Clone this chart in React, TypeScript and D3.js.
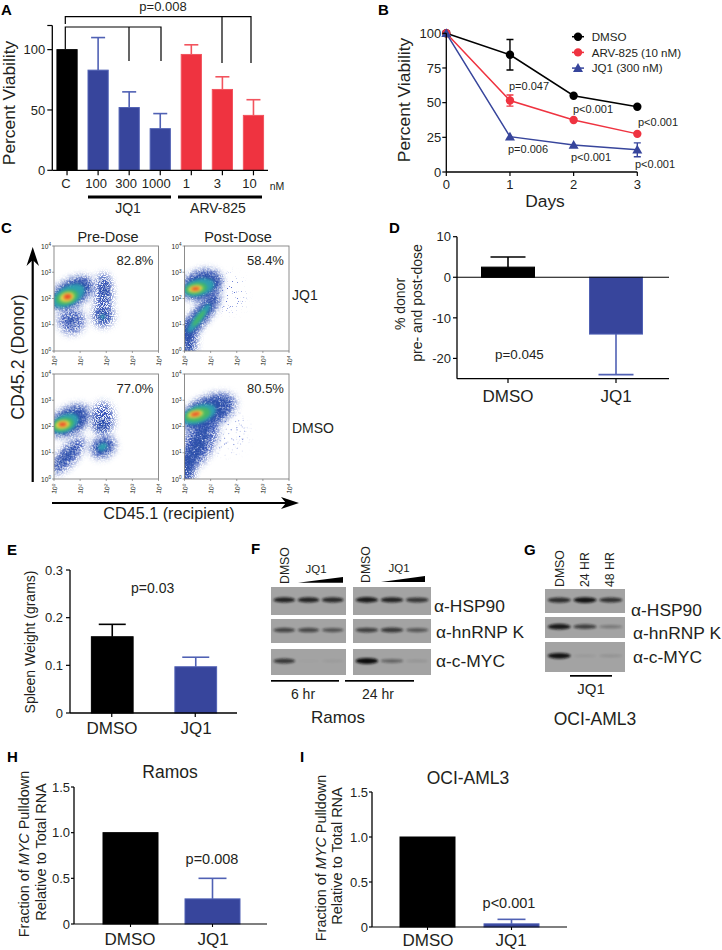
import React from "react";
import * as d3 from "d3";

// ---------- data ----------
const A_CATS = ["C", "100", "300", "1000", "1", "3", "10"];
const A_VALS = [100, 83, 52, 34.5, 96, 67, 45.5];
const A_ERR_TOP = [100, 110, 65, 47, 104, 77.5, 58.5];
const A_KIND = ["c", "j", "j", "j", "a", "a", "a"];
const A_LABEL_DX = [-1, -2, -3, -4, -5, -5, -4];

const B_DAYS = [0, 1, 2, 3];
const B_DMSO = [100, 84.5, 55, 47];
const B_DMSO_ERR = [0, 11, 1.5, 1.5];
const B_ARV = [100, 51.5, 37.5, 27.5];
const B_ARV_ERR = [0, 4, 2, 2];
const B_JQ1 = [100, 25.5, 19.5, 16];
const B_JQ1_ERR = [0, 1.5, 1.5, 5];
const B_TICKS = [0, 25, 50, 75, 100];

const D_CATS = ["DMSO", "JQ1"];
const D_VALS = [2.5, -14];
const D_ERR = [5, -24];
const D_TICKS = [10, 0, -10, -20];

const E_VALS = [0.16, 0.097];
const E_ERR = [0.186, 0.117];
const E_TICKS = [0, 0.1, 0.2, 0.3];

const H_VALS = [1, 0.275];
const H_ERR = [1, 0.5];
const I_VALS = [1, 0.035];
const I_ERR = [1, 0.085];
const HI_TICKS = [0, 0.5, 1, 1.5];

// flow clusters: log10 x, log10 y, radius x, radius y (decades), angle, density level
const FLOW_PRE_JQ1 = [
  [0.68, 2.2, 0.95, 0.52, -30, 0], [1.9, 2.2, 0.33, 0.75, 0, 0], [1.88, 1.35, 0.4, 0.42, 0, 0], [0.67, 1.15, 0.5, 0.5, -20, 0],
  [0.66, 2.2, 0.78, 0.42, -30, 1], [1.92, 2.3, 0.13, 0.4, 0, 1], [1.88, 1.37, 0.2, 0.22, 0, 1], [0.67, 1.15, 0.2, 0.18, -20, 1],
  [0.55, 2.1, 0.68, 0.36, -28, 2], [1.86, 1.3, 0.08, 0.08, 0, 2],
  [0.5, 2.05, 0.44, 0.26, -20, 3], [0.5, 2.05, 0.28, 0.18, -15, 4], [0.52, 2.07, 0.15, 0.1, -10, 5],
];
const FLOW_POST_JQ1 = [
  [1.75, 2.2, 0.55, 0.7, 0, -1],
  [0.66, 2.52, 0.82, 0.55, -20, 0], [0.62, 1.35, 1.15, 0.33, -52, 0], [0.15, 0.5, 0.32, 0.7, 0, 0],
  [0.66, 2.5, 0.72, 0.46, -20, 1], [0.62, 1.35, 1.0, 0.24, -52, 1], [0.13, 0.5, 0.18, 0.6, 0, 1],
  [0.55, 2.42, 0.6, 0.32, -15, 2], [0.55, 1.25, 0.68, 0.15, -52, 2],
  [0.45, 2.38, 0.42, 0.22, -10, 3], [0.55, 1.25, 0.4, 0.08, -52, 3],
  [0.42, 2.37, 0.28, 0.14, -8, 4], [0.42, 2.37, 0.16, 0.07, -5, 5],
];
const FLOW_PRE_DMSO = [
  [0.62, 2.22, 0.85, 0.52, -30, 0], [1.86, 2.3, 0.42, 0.62, 0, 0], [1.88, 1.22, 0.5, 0.4, -30, 0], [0.55, 0.9, 0.9, 0.34, -48, 0],
  [0.6, 2.2, 0.72, 0.43, -30, 1], [1.82, 2.05, 0.24, 0.18, -10, 1], [1.86, 1.22, 0.36, 0.26, -30, 1], [0.45, 0.85, 0.6, 0.16, -48, 1],
  [0.42, 2.12, 0.55, 0.33, -25, 2], [1.86, 1.22, 0.18, 0.13, -30, 2],
  [0.35, 2.08, 0.42, 0.24, -15, 3], [0.33, 2.07, 0.28, 0.16, -10, 4], [0.33, 2.08, 0.15, 0.08, -5, 5],
];
const FLOW_POST_DMSO = [
  [1.6, 1.8, 0.8, 0.85, -30, -1],
  [0.9, 2.55, 1.15, 0.58, -25, 0], [0.55, 1.4, 1.15, 0.58, -62, 0], [0.1, 0.4, 0.28, 0.6, 0, 0],
  [0.85, 2.55, 0.98, 0.48, -25, 1], [0.5, 1.3, 0.95, 0.28, -65, 1], [0.1, 0.4, 0.16, 0.45, 0, 1],
  [0.55, 2.47, 0.68, 0.34, -20, 2], [0.5, 2.45, 0.5, 0.25, -15, 3], [0.42, 2.47, 0.3, 0.14, -12, 4], [0.42, 2.47, 0.18, 0.07, -12, 5],
];
const FLOW_TICKS = [1, 10, 100, 1000, 10000];
const FLOW_EXP = ["0", "1", "2", "3", "4"];
const FLOW_PCT = ["82.8%", "58.4%", "77.0%", "80.5%"];

// blot bands: darkness of each lane
const F_6H = [[0.85, 0.85, 0.8], [0.62, 0.6, 0.52], [0.7, 0, 0.04]];
const F_24H = [[0.9, 0.85, 0.72], [0.65, 0.7, 0.5], [1, 0.4, 0.08]];
const G_BLOT = [[0.78, 0.95, 0.75], [0.9, 0.65, 0.28], [0.95, 0.05, 0.1]];
const F_ANTIBODIES = ["α-HSP90", "α-hnRNP K", "α-c-MYC"];

// ---------- layout & style ----------
const FONT = "Liberation Sans, Arial, sans-serif";
const INK = "#231f20";
const BLUE = "#37459c";
const BLUE_E = "#5061b4";
const RED = "#ef3340";
const RED_E = "#f2545e";
const FLOW_COLORS: Record<string, string> = { "-1": "#5a6fd0", "0": "#3250b8", "1": "#2a4fa8", "2": "#2f9fb0", "3": "#45b866", "4": "#e6d94a", "5": "#ea4a28" };
const FLOW_FILTER: Record<string, string> = { "-1": "url(#sparse)", "0": "url(#speckle)", "1": "url(#speckle2)", "2": "url(#soft)", "3": "url(#soft)", "4": "url(#soft)", "5": "url(#soft)" };

function T({ x, y, s = 13, a = "start", r, w, fill = INK, children }: any) {
  return (
    <text x={x} y={y} fontSize={s} fontFamily={FONT} textAnchor={a} fontWeight={w} fill={fill}
      transform={r ? `rotate(${r} ${x} ${y})` : undefined}>{children}</text>
  );
}
const Letter = ({ x, y, c }: any) => <T x={x} y={y} s={15} w="bold" fill="#000">{c}</T>;

function YAxis({ x, y, ticks, fmt, len = 5, s = 13, top, bottom, dx = 3 }: any) {
  return (
    <g>
      <line x1={x} x2={x} y1={top ?? y(d3.max(ticks))} y2={bottom ?? y(d3.min(ticks))} stroke="#000" strokeWidth={1.3} />
      {ticks.map((t: number) => (
        <g key={t}>
          <line x1={x - len} x2={x} y1={y(t)} y2={y(t)} stroke="#000" strokeWidth={1.2} />
          <T x={x - len - dx} y={y(t) + s * 0.36} s={s} a="end">{fmt ? fmt(t) : t}</T>
        </g>
      ))}
    </g>
  );
}

function Bar({ x, w, y0, yv, ye, cap, color, edge, sw = 1 }: any) {
  const c = x + w / 2;
  return (
    <g>
      {ye !== yv && <line x1={c} x2={c} y1={yv} y2={ye} stroke={edge} strokeWidth={1.6} />}
      {ye !== yv && <line x1={c - cap} x2={c + cap} y1={ye} y2={ye} stroke={edge} strokeWidth={1.6} />}
      <rect x={x} y={Math.min(y0, yv)} width={w} height={Math.abs(y0 - yv)} fill={color} stroke={edge} strokeWidth={sw} />
    </g>
  );
}

function PanelA() {
  const y = d3.scaleLinear().domain([0, 120]).range([170.3, 25.5]);
  const x = d3.scaleBand().domain(A_CATS.map((c, i) => i + c)).range([51.5, 269]).paddingInner(0.35).paddingOuter(0.175);
  const col = (k: string) => (k === "c" ? "#000" : k === "j" ? BLUE : RED);
  const edge = (k: string) => (k === "c" ? "#000" : k === "j" ? BLUE_E : RED_E);
  return (
    <g>
      <Letter x={1} y={15} c="A" />
      <T x={163} y={10.5} s={13} a="middle">p=0.008</T>
      <path d="M65.3 49V27H161V61M129 27V61M65.3 24V16.7H251V63M222 16.7V63" fill="none" stroke="#000" strokeWidth={1.2} />
      {A_CATS.map((c, i) => {
        const k = i + c;
        const bx = x(k)!;
        const cx = bx + x.bandwidth() / 2;
        return (
          <g key={k}>
            <Bar x={bx} w={x.bandwidth()} y0={y(0)} yv={y(A_VALS[i])} ye={y(A_ERR_TOP[i])} cap={7} color={col(A_KIND[i])} edge={edge(A_KIND[i])} />
            <line x1={cx} x2={cx} y1={y(0)} y2={y(0) + 5} stroke="#000" strokeWidth={1.2} />
            <T x={cx + A_LABEL_DX[i]} y={188} s={13} a="middle">{c}</T>
          </g>
        );
      })}
      <line x1={52.3} x2={268} y1={y(0)} y2={y(0)} stroke="#000" strokeWidth={1.3} />
      <YAxis x={52.3} y={y} ticks={[0, 50, 100]} top={y(120)} dx={2} />
      <line x1={47.3} x2={52.3} y1={y(120)} y2={y(120)} stroke="#000" strokeWidth={1.2} />
      <T x={277} y={190} s={10.5} a="middle">nM</T>
      <rect x={88} y={195.5} width={83} height={3} fill="#000" />
      <rect x={178} y={195.5} width={84} height={3} fill="#000" />
      <T x={128} y={213} s={14} a="middle">JQ1</T>
      <T x={218} y={213} s={14} a="middle">ARV-825</T>
      <T x={15} y={103} s={17.4} a="middle" r={-90}>Percent Viability</T>
    </g>
  );
}

function PanelB() {
  const x = d3.scaleLinear().domain([0, 3]).range([446.3, 637.3]);
  const y = d3.scaleLinear().domain([0, 100]).range([172, 33.3]);
  const line = d3.line<number>().x((_, i) => x(B_DAYS[i])).y((d) => y(d));
  const series = [
    { v: B_DMSO, e: B_DMSO_ERR, c: "#000", m: "c" },
    { v: B_ARV, e: B_ARV_ERR, c: RED, m: "c" },
    { v: B_JQ1, e: B_JQ1_ERR, c: BLUE, m: "t" },
  ];
  const mark = (px: number, py: number, s: any) =>
    s.m === "c" ? <circle cx={px} cy={py} r={4.2} fill={s.c} /> : <path d={`M${px} ${py - 5}L${px + 5} ${py + 3.8}H${px - 5}Z`} fill={s.c} />;
  return (
    <g>
      <Letter x={378} y={15} c="B" />
      {series.map((s, k) => (
        <g key={k}>
          <path d={line(s.v)!} fill="none" stroke={s.c} strokeWidth={1.5} />
          {s.v.map((v, i) => (
            <g key={i}>
              {s.e[i] > 2 && (
                <path d={`M${x(i)} ${y(v + s.e[i])}V${y(v - s.e[i])}M${x(i) - 3.5} ${y(v + s.e[i])}h7M${x(i) - 3.5} ${y(v - s.e[i])}h7`} stroke={s.c} strokeWidth={1.4} fill="none" />
              )}
              {mark(x(B_DAYS[i]), y(v), s)}
            </g>
          ))}
        </g>
      ))}
      <YAxis x={446.3} y={y} ticks={B_TICKS} len={4} dx={1} />
      <line x1={446.3} x2={637.3} y1={172} y2={172} stroke="#000" strokeWidth={1.3} />
      {B_DAYS.map((d) => (
        <g key={d}>
          <line x1={x(d)} x2={x(d)} y1={172} y2={176} stroke="#000" strokeWidth={1.2} />
          <T x={x(d)} y={189} s={13} a="middle">{d}</T>
        </g>
      ))}
      <T x={545} y={207} s={17.4} a="middle">Days</T>
      <T x={410} y={100} s={17.4} a="middle" r={-90}>Percent Viability</T>
      {["DMSO", "ARV-825 (10 nM)", "JQ1 (300 nM)"].map((l, i) => (
        <g key={l}>
          <line x1={572} x2={584} y1={36.7 + i * 15.7} y2={36.7 + i * 15.7} stroke={series[i].c} strokeWidth={1.5} />
          {mark(578, 36.7 + i * 15.7, series[i])}
          <T x={591.7} y={40.8 + i * 15.7} s={11.6}>{l}</T>
        </g>
      ))}
      <T x={509} y={90} s={11}>p=0.047</T>
      <T x={573} y={113} s={11}>p&lt;0.001</T>
      <T x={638} y={126} s={11}>p&lt;0.001</T>
      <T x={508} y={153} s={11}>p=0.006</T>
      <T x={571} y={161} s={11}>p&lt;0.001</T>
      <T x={635} y={168} s={11}>p&lt;0.001</T>
    </g>
  );
}

function Flow({ x0, y0, data, pct, idp }: any) {
  const w = 104.5;
  const h = 105;
  const sx = d3.scaleLog().domain([1, 10000]).range([x0, x0 + w]);
  const sy = d3.scaleLog().domain([1, 10000]).range([y0 + h, y0]);
  const u = w / 4;
  const ordered = [...data].sort((a: number[], b: number[]) => a[5] - b[5]);
  return (
    <g>
      <clipPath id={idp}><rect x={x0} y={y0} width={w} height={h} /></clipPath>
      <rect x={x0} y={y0} width={w} height={h} fill="#fff" />
      <g clipPath={`url(#${idp})`}>
        {ordered.map((c: number[], i: number) => {
          const cx = sx(Math.pow(10, c[0]));
          const cy = sy(Math.pow(10, c[1]));
          return (
            <ellipse key={i} cx={cx} cy={cy} rx={c[2] * u} ry={c[3] * u}
              transform={`rotate(${c[4]} ${cx} ${cy})`} fill={FLOW_COLORS[String(c[5])]} filter={FLOW_FILTER[String(c[5])]} />
          );
        })}
      </g>
      <rect x={x0} y={y0} width={w} height={h} fill="none" stroke="#808080" strokeWidth={0.9} />
      {FLOW_TICKS.map((t, i) => (
        <g key={t}>
          <line x1={x0 - 2} x2={x0} y1={sy(t)} y2={sy(t)} stroke="#666" strokeWidth={0.6} />
          <line x1={sx(t)} x2={sx(t)} y1={y0 + h} y2={y0 + h + 2} stroke="#666" strokeWidth={0.6} />
          <text x={x0 - 3} y={sy(t) + 2.5} fontSize={6.6} fontFamily={FONT} textAnchor="end" fill={INK}>
            10<tspan dy={-2.2} fontSize={4.6}>{FLOW_EXP[i]}</tspan>
          </text>
          <text x={sx(t) + 2} y={y0 + h + 15} fontSize={6.6} fontFamily={FONT} fill={INK} transform={`rotate(-80 ${sx(t) + 2} ${y0 + h + 15})`}>
            10<tspan dy={-2.2} fontSize={4.6}>{FLOW_EXP[i]}</tspan>
          </text>
        </g>
      ))}
      <T x={x0 + 81} y={y0 + 19} s={13} a="middle">{pct}</T>
    </g>
  );
}

function PanelC() {
  return (
    <g>
      <Letter x={1} y={233} c="C" />
      <T x={108} y={242} s={14.5} a="middle">Pre-Dose</T>
      <T x={238} y={242} s={14.5} a="middle">Post-Dose</T>
      <Flow x0={54} y0={246} data={FLOW_PRE_JQ1} pct={FLOW_PCT[0]} idp="f1" />
      <Flow x0={184.5} y0={246} data={FLOW_POST_JQ1} pct={FLOW_PCT[1]} idp="f2" />
      <Flow x0={54} y0={374} data={FLOW_PRE_DMSO} pct={FLOW_PCT[2]} idp="f3" />
      <Flow x0={184.5} y0={374} data={FLOW_POST_DMSO} pct={FLOW_PCT[3]} idp="f4" />
      <T x={292} y={300} s={14}>JQ1</T>
      <T x={292} y={433} s={14}>DMSO</T>
      <line x1={32.7} x2={32.7} y1={482} y2={258} stroke="#000" strokeWidth={2.2} />
      <path d="M32.7 247 L39 266 L32.7 260 L26.5 266 Z" fill="#000" />
      <line x1={52} x2={292} y1={503} y2={503} stroke="#000" strokeWidth={2.2} />
      <path d="M299 503 L281 497 L286 503 L281 509 Z" fill="#000" />
      <T x={24} y={357} s={17.8} a="middle" r={-90}>CD45.2 (Donor)</T>
      <T x={169} y={519} s={16.2} a="middle">CD45.1 (recipient)</T>
    </g>
  );
}

function PanelD() {
  const y = d3.scaleLinear().domain([10, -25]).range([236.7, 378.7]);
  const x = d3.scaleBand().domain(D_CATS).range([457, 669]).paddingInner(0.5).paddingOuter(0.25);
  return (
    <g>
      <Letter x={389} y={233} c="D" />
      {D_CATS.map((c, i) => (
        <g key={c}>
          <Bar x={x(c)! + (i ? 0 : -2)} w={x.bandwidth()} y0={y(0)} yv={y(D_VALS[i])} ye={y(D_ERR[i])} cap={17.5} color={i ? BLUE : "#000"} edge={i ? BLUE_E : "#000"} />
          <line x1={x(c)! + x.bandwidth() / 2 + (i ? 0 : -2)} x2={x(c)! + x.bandwidth() / 2 + (i ? 0 : -2)} y1={378.7} y2={383} stroke="#000" strokeWidth={1.2} />
          <T x={x(c)! + x.bandwidth() / 2 + (i ? 0 : -2)} y={402} s={17} a="middle">{c}</T>
        </g>
      ))}
      <line x1={457} x2={669} y1={y(0)} y2={y(0)} stroke="#000" strokeWidth={1.2} />
      <line x1={457} x2={669} y1={378.7} y2={378.7} stroke="#000" strokeWidth={1.3} />
      <YAxis x={457} y={y} ticks={D_TICKS} bottom={378.7} len={4} dx={2} />
      <T x={405} y={304} s={14} a="middle" r={-90}>% donor</T>
      <T x={422} y={303} s={14} a="middle" r={-90}>pre- and post-dose</T>
      <T x={495} y={359} s={13.4}>p=0.045</T>
    </g>
  );
}

function PanelE() {
  const y = d3.scaleLinear().domain([0, 0.3]).range([713, 570]);
  const x = d3.scaleBand().domain(D_CATS).range([70, 237]).paddingInner(0.5).paddingOuter(0.25);
  return (
    <g>
      <Letter x={7} y={555} c="E" />
      {D_CATS.map((c, i) => (
        <g key={c}>
          <Bar x={x(c)! + 0.5} w={x.bandwidth()} y0={y(0)} yv={y(E_VALS[i])} ye={y(E_ERR[i])} cap={13.5} color={i ? BLUE : "#000"} edge={i ? BLUE_E : "#000"} />
          <line x1={x(c)! + x.bandwidth() / 2} x2={x(c)! + x.bandwidth() / 2} y1={713} y2={717} stroke="#000" strokeWidth={1.2} />
        </g>
      ))}
      <T x={112} y={734} s={17} a="middle">DMSO</T>
      <T x={196} y={734} s={17} a="middle">JQ1</T>
      <line x1={70} x2={237} y1={713} y2={713} stroke="#000" strokeWidth={1.3} />
      <YAxis x={70} y={y} ticks={E_TICKS} len={4} dx={3} />
      <T x={35} y={642} s={14} a="middle" r={-90}>Spleen Weight (grams)</T>
      <T x={131} y={593} s={14}>p=0.03</T>
    </g>
  );
}

function Blot({ x, y, w, h, lanes, fill = "#a3a3a3" }: any) {
  const sx = d3.scaleBand().domain(d3.range(lanes.length).map(String)).range([x, x + w]).padding(0.1);
  const op = d3.scaleLinear().domain([0, 1]).range([0.02, 1]);
  return (
    <g>
      <rect x={x} y={y} width={w} height={h} fill={fill} />
      {lanes.map((v: number, i: number) => (
        <ellipse key={i} cx={sx(String(i))! + sx.bandwidth() / 2} cy={y + h * 0.46} rx={sx.bandwidth() * 0.5} ry={1.2 + v * 1.8}
          fill="#111" opacity={op(v)} filter="url(#band)" />
      ))}
    </g>
  );
}

function PanelF() {
  const rows = [[587, 28], [619, 24], [649, 26]];
  return (
    <g>
      <Letter x={251} y={554} c="F" />
      <T x={289} y={584} s={12.3} r={-90}>DMSO</T>
      <T x={370} y={583} s={12.3} r={-90}>DMSO</T>
      <T x={316} y={573} s={11.5} a="middle">JQ1</T>
      <T x={399} y={572} s={11.5} a="middle">JQ1</T>
      <path d="M298 582.7L343 577V582.7Z" fill="#000" />
      <path d="M381 582L425 576V582Z" fill="#000" />
      {rows.map((r, i) => (
        <g key={i}>
          <Blot x={271} y={r[0]} w={75} h={r[1]} lanes={F_6H[i]} />
          <Blot x={353} y={r[0]} w={78} h={r[1]} lanes={F_24H[i]} />
        </g>
      ))}
      <T x={434} y={612} s={17.4}>{F_ANTIBODIES[0]}</T>
      <T x={436} y={638} s={17.4}>{F_ANTIBODIES[1]}</T>
      <T x={436} y={667} s={17.4}>{F_ANTIBODIES[2]}</T>
      <rect x={271} y={680} width={68} height={1.7} fill="#000" />
      <rect x={345} y={680} width={69} height={1.7} fill="#000" />
      <T x={303} y={699} s={14} a="middle">6 hr</T>
      <T x={378} y={699} s={14} a="middle">24 hr</T>
      <T x={338} y={723} s={17} a="middle">Ramos</T>
    </g>
  );
}

function PanelG() {
  const rows = [[589, 24], [617, 21], [642, 30]];
  return (
    <g>
      <Letter x={524} y={555} c="G" />
      <T x={564} y={587} s={12.3} r={-90}>DMSO</T>
      <T x={589} y={587} s={12.3} r={-90}>24 HR</T>
      <T x={614} y={587} s={12.3} r={-90}>48 HR</T>
      {rows.map((r, i) => <Blot key={i} x={545} y={r[0]} w={80} h={r[1]} lanes={G_BLOT[i]} />)}
      <T x={631} y={616} s={17.4}>{F_ANTIBODIES[0]}</T>
      <T x={633} y={639} s={17.4}>{F_ANTIBODIES[1]}</T>
      <T x={633} y={663} s={17.4}>{F_ANTIBODIES[2]}</T>
      <rect x={570} y={675} width={42} height={1.7} fill="#000" />
      <T x={591} y={694} s={15} a="middle">JQ1</T>
      <T x={595} y={725} s={17.5} a="middle">OCI-AML3</T>
    </g>
  );
}

function Pull({ letter, lx, title, tx, ty, axX, yTop, y0, xEnd, bars, caps, vals, errs, lab, labY, p, pc, py, tl1x, tl2x, c1, c2 }: any) {
  const y = d3.scaleLinear().domain([0, 1.5]).range([y0, yTop]);
  const x = d3.scaleOrdinal<string, number>().domain(D_CATS).range(bars);
  return (
    <g>
      <Letter x={lx} y={762} c={letter} />
      <T x={tx} y={ty} s={17.5} a="middle">{title}</T>
      {D_CATS.map((c, i) => (
        <g key={c}>
          <Bar x={x(c)} w={55} y0={y0} yv={y(vals[i])} ye={y(errs[i])} cap={caps} color={i ? BLUE : "#000"} edge={i ? BLUE_E : "#000"} />
          <line x1={x(c) + 27.5} x2={x(c) + 27.5} y1={y0} y2={y0 + 3} stroke="#000" strokeWidth={1.1} />
          <T x={lab[i]} y={labY} s={17} a="middle">{c}</T>
        </g>
      ))}
      <line x1={axX} x2={xEnd} y1={y0} y2={y0} stroke="#000" strokeWidth={1.2} />
      <YAxis x={axX} y={y} ticks={HI_TICKS} len={3} dx={1} s={13} fmt={(t: number) => (t === 0 ? "0" : t.toFixed(1))} />
      <text x={tl1x} y={c1} fontSize={14.4} fontFamily={FONT} fill={INK} textAnchor="middle" transform={`rotate(-90 ${tl1x} ${c1})`}>
        Fraction of <tspan fontStyle="italic">MYC</tspan> Pulldown
      </text>
      <T x={tl2x} y={c2} s={14.5} a="middle" r={-90}>Relative to Total RNA</T>
      <T x={pc} y={py} s={14.5} a="middle">{p}</T>
    </g>
  );
}

export default function App() {
  return (
    <svg width={722} height={950} viewBox="0 0 722 950" style={{ position: "absolute", left: 0, top: 0, background: "#fff" }}>
      <defs>
        <filter id="speckle" x="-40%" y="-40%" width="180%" height="180%">
          <feGaussianBlur in="SourceGraphic" stdDeviation="3.5" result="b" />
          <feTurbulence type="fractalNoise" baseFrequency="1.1" numOctaves="1" seed="4" result="n" />
          <feColorMatrix in="n" type="matrix" values="0 0 0 0 0 0 0 0 0 0 0 0 0 0 0 9 0 0 0 -3.8" result="t" />
          <feComposite in="b" in2="t" operator="in" />
        </filter>
        <filter id="speckle2" x="-40%" y="-40%" width="180%" height="180%">
          <feGaussianBlur in="SourceGraphic" stdDeviation="3" result="b" />
          <feTurbulence type="fractalNoise" baseFrequency="1.1" numOctaves="1" seed="9" result="n" />
          <feColorMatrix in="n" type="matrix" values="0 0 0 0 0 0 0 0 0 0 0 0 0 0 0 9 0 0 0 -3" result="t" />
          <feComposite in="b" in2="t" operator="in" />
        </filter>
        <filter id="sparse" x="-40%" y="-40%" width="180%" height="180%">
          <feGaussianBlur in="SourceGraphic" stdDeviation="5" result="b" />
          <feTurbulence type="fractalNoise" baseFrequency="1.2" numOctaves="1" seed="12" result="n" />
          <feColorMatrix in="n" type="matrix" values="0 0 0 0 0 0 0 0 0 0 0 0 0 0 0 14 0 0 0 -9.2" result="t" />
          <feComposite in="b" in2="t" operator="in" />
        </filter>
        <filter id="soft" x="-40%" y="-40%" width="180%" height="180%">
          <feGaussianBlur stdDeviation="1.6" />
        </filter>
        <filter id="band" x="-30%" y="-100%" width="160%" height="300%">
          <feGaussianBlur stdDeviation="1 0.8" />
        </filter>
      </defs>
      <PanelA />
      <PanelB />
      <PanelC />
      <PanelD />
      <PanelE />
      <PanelF />
      <PanelG />
      <Pull letter="H" lx={7} title="Ramos" tx={170} ty={778} axX={74} yTop={787} y0={924} xEnd={267} bars={[103, 185]} caps={14} vals={H_VALS} errs={H_ERR}
        lab={[130, 213]} labY={945} p="p=0.008" pc={212} py={864} tl1x={28.7} tl2x={46} c1={854} c2={852} />
      <Pull letter="I" lx={300} title="OCI-AML3" tx={468} ty={784} axX={372} yTop={792} y0={927} xEnd={567} bars={[400, 484]} caps={14} vals={I_VALS} errs={I_ERR}
        lab={[428, 511]} labY={945.5} p="p<0.001" pc={509} py={908} tl1x={325.5} tl2x={341.7} c1={858} c2={856} />
    </svg>
  );
}
